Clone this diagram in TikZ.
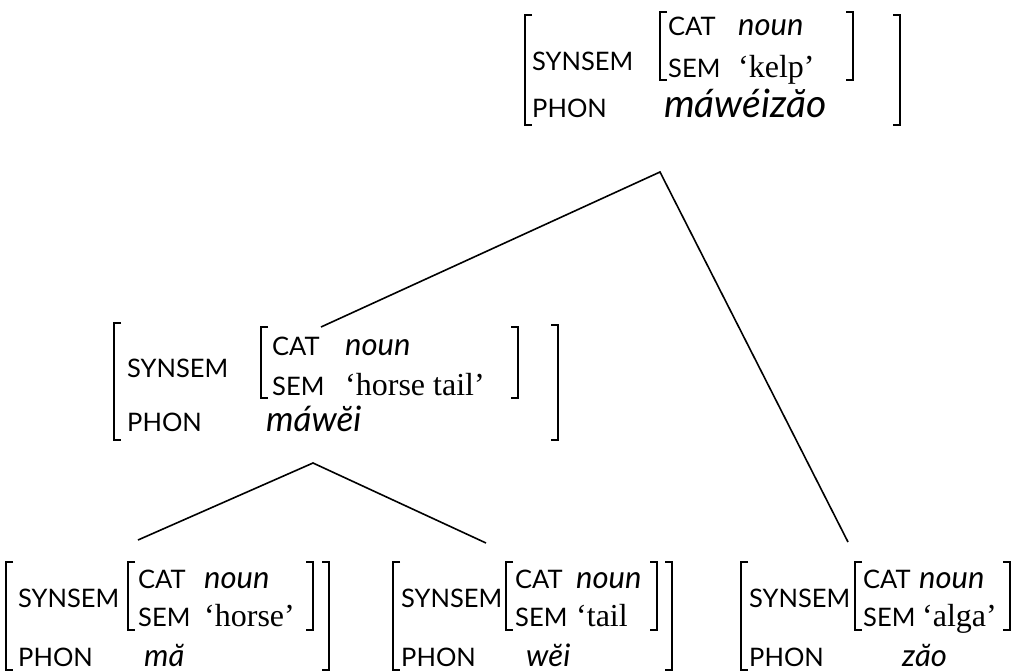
\documentclass[tikz,border=0pt]{standalone}
\usepackage{fontspec}
\setmainfont{Liberation Serif}
\newfontfamily\avmsf{Lato}
\usetikzlibrary{positioning}

% brackets of an AVM: x, top, bottom
\newcommand\lbr[3]{\draw[brk] (#1+7,#2) -- (#1,#2) -- (#1,#3) -- (#1+7,#3);}
\newcommand\rbr[3]{\draw[brk] (#1-7,#2) -- (#1,#2) -- (#1,#3) -- (#1-7,#3);}

\begin{document}
\begin{tikzpicture}[x=1pt,y=-1pt,
	lab/.style={anchor=base west,inner sep=0pt,font=\avmsf\fontsize{25.5}{25.5}\selectfont},
	typ/.style={anchor=base west,inner sep=0pt,font=\avmsf\itshape\fontsize{31}{31}\selectfont},
	phl/.style={anchor=base west,inner sep=0pt,font=\avmsf\itshape\fontsize{39}{39}\selectfont},
	phn/.style={anchor=base west,inner sep=0pt,font=\avmsf\itshape\fontsize{35}{35}\selectfont},
	phs/.style={anchor=base west,inner sep=0pt,font=\avmsf\itshape\fontsize{31}{31}\selectfont},
	gls/.style={anchor=base west,inner sep=0pt,font=\fontsize{32}{32}\selectfont},
	brk/.style={line width=1.8pt},
	branch/.style={line width=1.6pt}]
	\useasboundingbox (0,0) rectangle (1023,672);

	% kelp
	\node[lab] (kelp-ss) at (532,70) {SYNSEM};
	\node[lab] (kelp-cat) at (668,35) {CAT};
	\node[typ] (kelp-n) at (738,35) {noun};
	\node[lab] (kelp-sem) at (668,77) {SEM};
	\node[gls] (kelp-g) at (738,77) {‘kelp’};
	\node[lab] (kelp-ph) at (532,117) {PHON};
	\node[phl] (kelp-p) at (664,117) {máwéizăo};
	\lbr{525}{15}{125} \lbr{660}{12}{80} \rbr{853}{12}{80} \rbr{900}{15}{125}

	% horse tail
	\node[lab] (ht-ss) at (127,377) {SYNSEM};
	\node[lab] (ht-cat) at (272,355) {CAT};
	\node[typ] (ht-n) at (345,355) {noun};
	\node[lab] (ht-sem) at (272,395) {SEM};
	\node[gls] (ht-g) at (345,395) {‘horse tail’};
	\node[lab] (ht-ph) at (127,431) {PHON};
	\node[phn] (ht-p) at (266,431) {máwĕi};
	\lbr{114}{323}{440} \lbr{261}{327}{398} \rbr{518}{327}{398} \rbr{558}{325}{440}

	% horse
	\node[lab] (h-ss) at (18,607) {SYNSEM};
	\node[lab] (h-cat) at (138,588) {CAT};
	\node[typ] (h-n) at (204,588) {noun};
	\node[lab] (h-sem) at (138,626) {SEM};
	\node[gls] (h-g) at (204,626) {‘horse’};
	\node[lab] (h-ph) at (18,666) {PHON};
	\node[phs] (h-p) at (144,666) {mă};
	\lbr{6}{562}{670} \lbr{128}{562}{630} \rbr{313}{562}{630} \rbr{329}{562}{670}

	% tail
	\node[lab] (t-ss) at (401,607) {SYNSEM};
	\node[lab] (t-cat) at (515,588) {CAT};
	\node[typ] (t-n) at (576,588) {noun};
	\node[lab] (t-sem) at (515,626) {SEM};
	\node[gls] (t-g) at (576,626) {‘tail};
	\node[lab] (t-ph) at (401,666) {PHON};
	\node[phs] (t-p) at (526,666) {wĕi};
	\lbr{393}{562}{670} \lbr{506}{562}{630} \rbr{657}{562}{630} \rbr{672}{562}{670}

	% alga
	\node[lab] (a-ss) at (749,607) {SYNSEM};
	\node[lab] (a-cat) at (863,588) {CAT};
	\node[typ] (a-n) at (919,588) {noun};
	\node[lab] (a-sem) at (863,626) {SEM};
	\node[gls] (a-g) at (922,626) {‘alga’};
	\node[lab] (a-ph) at (749,666) {PHON};
	\node[phs] (a-p) at (902,666) {zăo};
	\lbr{741}{562}{670} \lbr{855}{562}{630} \rbr{1010}{562}{630}

	% branches
	\coordinate (kelp-foot) at (660,172);
	\coordinate (ht-head) at (321,327);
	\coordinate (ht-foot) at (313,463);
	\coordinate (h-head) at (138,540);
	\coordinate (t-head) at (486,543);
	\coordinate (a-head) at (848,542);
	\draw[branch] (ht-head) -- (kelp-foot) -- (a-head);
	\draw[branch] (h-head) -- (ht-foot) -- (t-head);
\end{tikzpicture}
\end{document}
